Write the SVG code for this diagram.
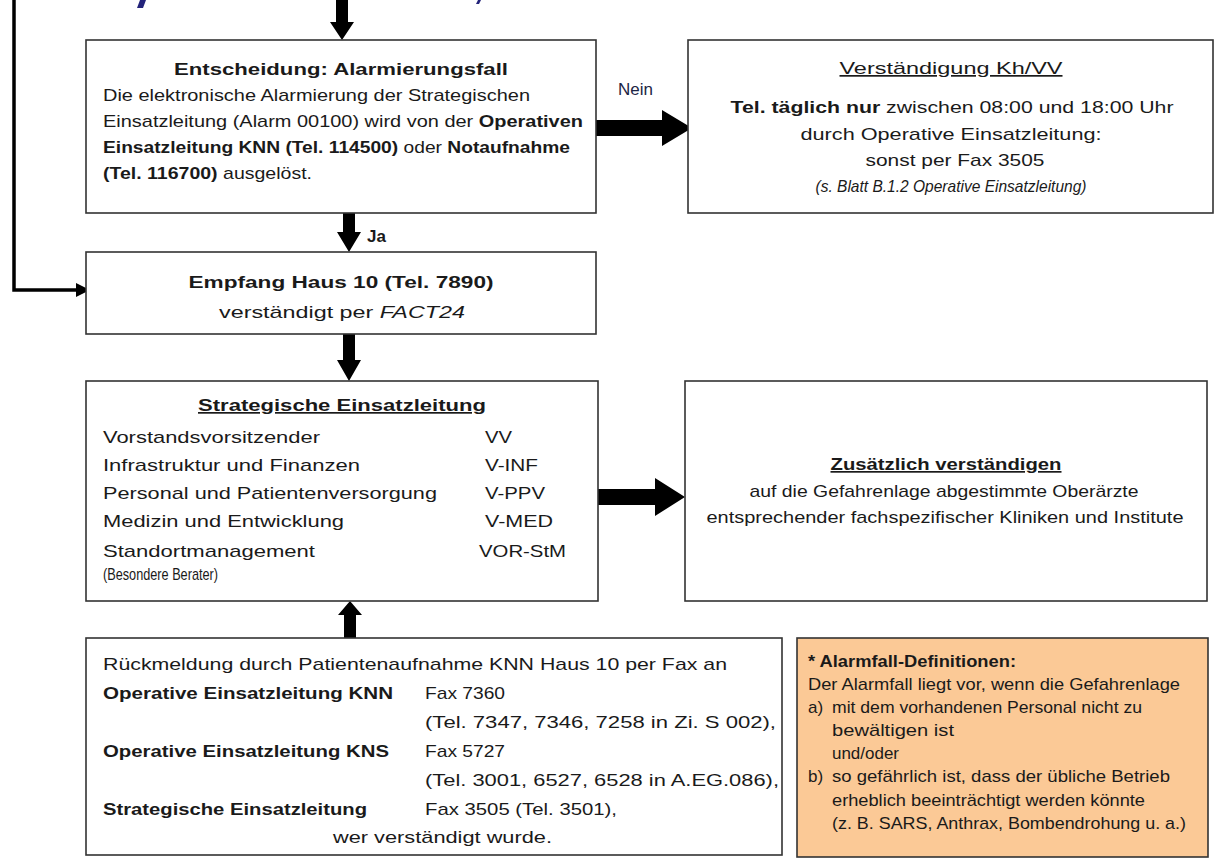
<svg xmlns="http://www.w3.org/2000/svg" width="1216" height="858" viewBox="0 0 1216 858">
<style>
.box{fill:#fff;stroke:#333;stroke-width:1.6}
.t{font-family:"Liberation Sans",Arial,sans-serif;fill:#1a1a1a;font-size:17px}
.b{font-weight:bold}
.i{font-style:italic}
.c{text-anchor:middle}
.u{text-decoration:underline}
.arr{fill:#000}
</style>
<rect width="1216" height="858" fill="#fff"/>
<g id="fragments">
<path d="M137,8 L140,0 L146,0 L143,8 Z" fill="#23237a"/>
<path d="M476,4 L478,0 L481,0 L479,4 Z" fill="#23237a"/>
</g>
<g id="connectors">
<path class="arr" d="M336,0 H348 V22 H354 L342,40 L330,22 H336 Z"/>
<polyline points="14,0 14,290 78,290" fill="none" stroke="#000" stroke-width="3.5"/>
<path class="arr" d="M76,283 L90,290 L76,297 Z"/>
<path class="arr" d="M596,120 H662 V110 L692,128 L662,146 V136 H596 Z"/>
<text class="t" x="618" y="95" style="fill:#1c2545">Nein</text>
<path class="arr" d="M343,213 H355 V232 H361 L349,252 L337,232 H343 Z"/>
<text class="t b" x="367" y="242" font-size="16">Ja</text>
<path class="arr" d="M343,334 H355 V360 H361 L349,381 L337,360 H343 Z"/>
<path class="arr" d="M598,489 H655 V478 L685,497 L655,516 V505 H598 Z"/>
<path class="arr" d="M344,638 H356 V615 H362 L350,601 L338,615 H344 Z"/>
</g>
<g id="node-entscheidung">
<rect class="box" x="86" y="40" width="510" height="173"/>
<text class="t b c" x="341" y="75" font-size="20" textLength="334" lengthAdjust="spacingAndGlyphs">Entscheidung: Alarmierungsfall</text>
<text class="t" x="103" y="101" font-size="18" textLength="427" lengthAdjust="spacingAndGlyphs">Die elektronische Alarmierung der Strategischen</text>
<text class="t" x="103" y="127" font-size="18" textLength="480" lengthAdjust="spacingAndGlyphs">Einsatzleitung (Alarm 00100) wird von der <tspan class="b">Operativen</tspan></text>
<text class="t" x="103" y="153" font-size="18" textLength="467" lengthAdjust="spacingAndGlyphs"><tspan class="b">Einsatzleitung KNN (Tel. 114500)</tspan> oder <tspan class="b">Notaufnahme</tspan></text>
<text class="t" x="103" y="179" font-size="18" textLength="209" lengthAdjust="spacingAndGlyphs"><tspan class="b">(Tel. 116700)</tspan> ausgelöst.</text>
</g>
<g id="node-verstaendigung">
<rect class="box" x="688" y="40" width="525" height="173"/>
<text class="t c u" x="951" y="74" font-size="20" textLength="223" lengthAdjust="spacingAndGlyphs">Verständigung Kh/VV</text>
<text class="t c" x="952" y="113" font-size="18" textLength="443" lengthAdjust="spacingAndGlyphs"><tspan class="b">Tel. täglich nur</tspan> zwischen 08:00 und 18:00 Uhr</text>
<text class="t c" x="951" y="140" font-size="18" textLength="301" lengthAdjust="spacingAndGlyphs">durch Operative Einsatzleitung:</text>
<text class="t c" x="955" y="166" font-size="18" textLength="179" lengthAdjust="spacingAndGlyphs">sonst per Fax 3505</text>
<text class="t c i" x="951" y="192" font-size="12" textLength="271" lengthAdjust="spacingAndGlyphs">(s. Blatt B.1.2 Operative Einsatzleitung)</text>
</g>
<g id="node-empfang">
<rect class="box" x="86" y="252" width="510" height="82"/>
<text class="t b c" x="341" y="288" font-size="20" textLength="305" lengthAdjust="spacingAndGlyphs">Empfang Haus 10 (Tel. 7890)</text>
<text class="t c" x="342" y="318" font-size="19" textLength="246" lengthAdjust="spacingAndGlyphs">verständigt per <tspan class="i">FACT24</tspan></text>
</g>
<g id="node-strategische">
<rect class="box" x="86" y="381" width="512" height="220"/>
<text class="t b c u" x="342" y="411" font-size="19" textLength="288" lengthAdjust="spacingAndGlyphs">Strategische Einsatzleitung</text>
<text class="t" x="103" y="443" font-size="18" textLength="217" lengthAdjust="spacingAndGlyphs">Vorstandsvorsitzender</text>
<text class="t" x="103" y="471" font-size="18" textLength="257" lengthAdjust="spacingAndGlyphs">Infrastruktur und Finanzen</text>
<text class="t" x="103" y="499" font-size="18" textLength="334" lengthAdjust="spacingAndGlyphs">Personal und Patientenversorgung</text>
<text class="t" x="103" y="527" font-size="18" textLength="241" lengthAdjust="spacingAndGlyphs">Medizin und Entwicklung</text>
<text class="t" x="103" y="557" font-size="18" textLength="212" lengthAdjust="spacingAndGlyphs">Standortmanagement</text>
<text class="t" x="103" y="580" font-size="12" textLength="115" lengthAdjust="spacingAndGlyphs">(Besondere Berater)</text>
<text class="t" x="485" y="443" font-size="18" textLength="27" lengthAdjust="spacingAndGlyphs">VV</text>
<text class="t" x="485" y="471" font-size="18" textLength="53" lengthAdjust="spacingAndGlyphs">V-INF</text>
<text class="t" x="485" y="499" font-size="18" textLength="60" lengthAdjust="spacingAndGlyphs">V-PPV</text>
<text class="t" x="485" y="527" font-size="18" textLength="68" lengthAdjust="spacingAndGlyphs">V-MED</text>
<text class="t" x="479" y="557" font-size="18" textLength="87" lengthAdjust="spacingAndGlyphs">VOR-StM</text>
</g>
<g id="node-zusaetzlich">
<rect class="box" x="685" y="381" width="522" height="220"/>
<text class="t b c u" x="946" y="470" font-size="19" textLength="231" lengthAdjust="spacingAndGlyphs">Zusätzlich verständigen</text>
<text class="t c" x="944" y="497" font-size="17" textLength="389" lengthAdjust="spacingAndGlyphs">auf die Gefahrenlage abgestimmte Oberärzte</text>
<text class="t c" x="945" y="523" font-size="17" textLength="477" lengthAdjust="spacingAndGlyphs">entsprechender fachspezifischer Kliniken und Institute</text>
</g>
<g id="node-rueckmeldung">
<rect class="box" x="86" y="638" width="696" height="217"/>
<text class="t" x="103" y="670" font-size="18" textLength="624" lengthAdjust="spacingAndGlyphs">Rückmeldung durch Patientenaufnahme KNN Haus 10 per Fax an</text>
<text class="t b" x="103" y="699" font-size="18" textLength="290" lengthAdjust="spacingAndGlyphs">Operative Einsatzleitung KNN</text>
<text class="t" x="425" y="699" font-size="18" textLength="80" lengthAdjust="spacingAndGlyphs">Fax 7360</text>
<text class="t" x="425" y="728" font-size="18" textLength="351" lengthAdjust="spacingAndGlyphs">(Tel. 7347, 7346, 7258 in Zi. S 002),</text>
<text class="t b" x="103" y="757" font-size="18" textLength="286" lengthAdjust="spacingAndGlyphs">Operative Einsatzleitung KNS</text>
<text class="t" x="425" y="757" font-size="18" textLength="80" lengthAdjust="spacingAndGlyphs">Fax 5727</text>
<text class="t" x="425" y="786" font-size="18" textLength="354" lengthAdjust="spacingAndGlyphs">(Tel. 3001, 6527, 6528 in A.EG.086),</text>
<text class="t b" x="103" y="815" font-size="18" textLength="264" lengthAdjust="spacingAndGlyphs">Strategische Einsatzleitung</text>
<text class="t" x="425" y="815" font-size="18" textLength="192" lengthAdjust="spacingAndGlyphs">Fax 3505 (Tel. 3501),</text>
<text class="t" x="333" y="843" font-size="18" textLength="219" lengthAdjust="spacingAndGlyphs">wer verständigt wurde.</text>
</g>
<g id="node-definitionen">
<rect x="797" y="638" width="411" height="219" fill="#fbc996" stroke="#333" stroke-width="1.6"/>
<text class="t b" x="808" y="667" font-size="15" textLength="208" lengthAdjust="spacingAndGlyphs">* Alarmfall-Definitionen:</text>
<text class="t" x="808" y="690" font-size="15" textLength="372" lengthAdjust="spacingAndGlyphs">Der Alarmfall liegt vor, wenn die Gefahrenlage</text>
<text class="t" x="808" y="713" font-size="15">a)</text>
<text class="t" x="832" y="713" font-size="15" textLength="310" lengthAdjust="spacingAndGlyphs">mit dem vorhandenen Personal nicht zu</text>
<text class="t" x="832" y="736" font-size="15" textLength="122" lengthAdjust="spacingAndGlyphs">bewältigen ist</text>
<text class="t" x="832" y="759" font-size="15" textLength="67" lengthAdjust="spacingAndGlyphs">und/oder</text>
<text class="t" x="808" y="782" font-size="15">b)</text>
<text class="t" x="832" y="782" font-size="15" textLength="338" lengthAdjust="spacingAndGlyphs">so gefährlich ist, dass der übliche Betrieb</text>
<text class="t" x="832" y="806" font-size="15" textLength="313" lengthAdjust="spacingAndGlyphs">erheblich beeinträchtigt werden könnte</text>
<text class="t" x="832" y="829" font-size="15" textLength="354" lengthAdjust="spacingAndGlyphs">(z. B. SARS, Anthrax, Bombendrohung u. a.)</text>
</g>
</svg>
